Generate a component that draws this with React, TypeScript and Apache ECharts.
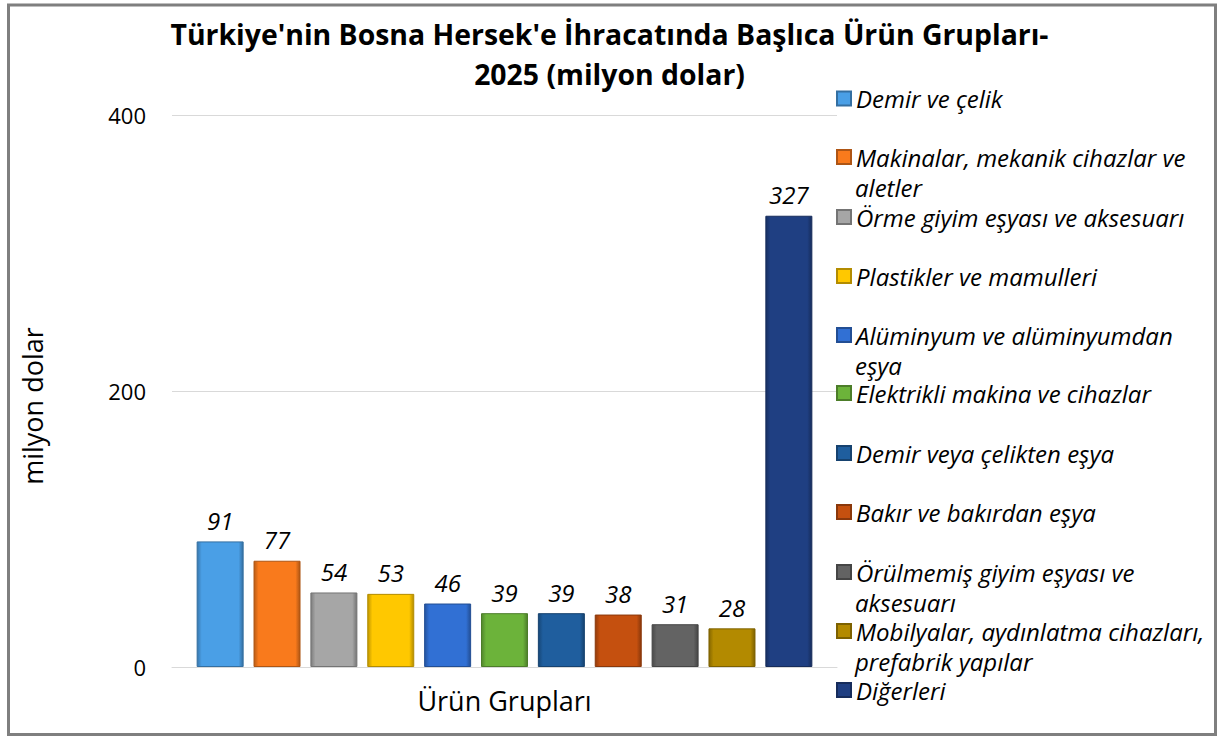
import React, { useEffect, useRef } from "react";
import * as echarts from "echarts";

const TITLE_TEXT = "Türkiye'nin Bosna Hersek'e İhracatında Başlıca Ürün Grupları-\n2025 (milyon dolar)";
const CATEGORIES = ["Ürün Grupları"];
const SERIES_NAMES = [
  "Demir ve çelik",
  "Makinalar, mekanik cihazlar ve aletler",
  "Örme giyim eşyası ve aksesuarı",
  "Plastikler ve mamulleri",
  "Alüminyum ve alüminyumdan eşya",
  "Elektrikli makina ve cihazlar",
  "Demir veya çelikten eşya",
  "Bakır ve bakırdan eşya",
  "Örülmemiş giyim eşyası ve aksesuarı",
  "Mobilyalar, aydınlatma cihazları, prefabrik yapılar",
  "Diğerleri",
];
// first line shown next to the legend icon, second line (if any) wraps below
const LEGEND_LINE1 = [
  "Demir ve çelik",
  "Makinalar, mekanik cihazlar ve",
  "Örme giyim eşyası ve aksesuarı",
  "Plastikler ve mamulleri",
  "Alüminyum ve alüminyumdan",
  "Elektrikli makina ve cihazlar",
  "Demir veya çelikten eşya",
  "Bakır ve bakırdan eşya",
  "Örülmemiş giyim eşyası ve",
  "Mobilyalar, aydınlatma cihazları,",
  "Diğerleri",
];
const LEGEND_LINE2 = ["", "aletler", "", "", "eşya", "", "", "", "aksesuarı", "prefabrik yapılar", ""];
const VALUES = [91, 77, 54, 53, 46, 39, 39, 38, 31, 28, 327];
const COLORS = [
  "#4a9fe6",
  "#f97a1c",
  "#a6a6a6",
  "#ffc800",
  "#3170d4",
  "#6cb33a",
  "#1f5e9e",
  "#c5500f",
  "#636363",
  "#b38a00",
  "#1f3f82",
];
const Y_TICKS = [0, 200, 400];

const FONT = "'Open Sans', 'Noto Sans', sans-serif";

function shade(hex: string, f: number): string {
  const n = parseInt(hex.slice(1), 16);
  const r = Math.round(((n >> 16) & 255) * f);
  const g = Math.round(((n >> 8) & 255) * f);
  const b = Math.round((n & 255) * f);
  const c = (v: number) => Math.max(0, Math.min(255, v)).toString(16).padStart(2, "0");
  return "#" + c(r) + c(g) + c(b);
}

export default function App() {
  const ref = useRef<HTMLDivElement>(null);
  useEffect(() => {
    if (!ref.current) return;
    const chart = echarts.init(ref.current, null, { renderer: "svg" });
    const iconCenters = [98.5, 157, 217, 276, 335, 393, 453, 512, 572, 631, 690];
    const legendText = {
      fontFamily: FONT,
      fontStyle: "italic",
      fontSize: 24,
      color: "#000",
      lineHeight: 26,
    };
    const legends = SERIES_NAMES.map((name, i) => ({
      data: [name],
      left: 836,
      top: iconCenters[i] - 13,
      padding: 0,
      orient: "vertical",
      icon: "rect",
      itemWidth: 14,
      itemHeight: 14,
      itemGap: 0,
      selectedMode: false,
      formatter: () => LEGEND_LINE1[i],
      textStyle: legendText,
    }));
    const wrapTexts = LEGEND_LINE2.map((t, i) =>
      t
        ? {
            type: "text",
            x: 855,
            y: iconCenters[i] + 30,
            silent: true,
            style: {
              text: t,
              fontFamily: FONT,
              fontStyle: "italic",
              fontSize: 24,
              lineHeight: 26,
              fill: "#000",
              verticalAlign: "middle",
              align: "left",
            },
          }
        : null
    ).filter(Boolean);
    const series = SERIES_NAMES.map((name, i) => ({
      name,
      type: "bar",
      data: [VALUES[i]],
      barWidth: 47,
      barGap: "21%",
      itemStyle: {
        color: new echarts.graphic.LinearGradient(0, 0, 1, 0, [
          { offset: 0, color: shade(COLORS[i], 0.75) },
          { offset: 0.1, color: COLORS[i] },
          { offset: 0.9, color: COLORS[i] },
          { offset: 1, color: shade(COLORS[i], 0.7) },
        ]),
        borderColor: shade(COLORS[i], 0.7),
        borderWidth: 1,
      },
      label: {
        show: true,
        position: "top",
        distance: 9,
        fontFamily: FONT,
        fontStyle: "italic",
        fontSize: 24,
        color: "#000",
      },
    }));
    chart.setOption({
      animation: false,
      backgroundColor: "#fff",
      title: {
        text: TITLE_TEXT,
        left: "center",
        top: 9,
        textStyle: {
          fontFamily: FONT,
          fontWeight: "bold",
          fontSize: 28.4,
          lineHeight: 40,
          color: "#000",
        },
      },
      graphic: [
        {
          type: "rect",
          shape: { x: 8.5, y: 5, width: 1207, height: 729.5 },
          style: { fill: "none", stroke: "#7f7f7f", lineWidth: 3 },
          silent: true,
        },
        ...wrapTexts,
      ],
      legend: legends,
      grid: { left: 172, right: 382, top: 115, bottom: 69 },
      xAxis: {
        type: "category",
        data: CATEGORIES,
        axisTick: { show: false },
        axisLine: { lineStyle: { color: "#d9d9d9", width: 1 } },
        axisLabel: {
          fontFamily: FONT,
          fontSize: 27,
          color: "#000",
          margin: 20,
        },
      },
      yAxis: {
        type: "value",
        min: Y_TICKS[0],
        max: Y_TICKS[Y_TICKS.length - 1],
        interval: 200,
        name: "milyon dolar",
        nameLocation: "middle",
        nameGap: 126,
        nameTextStyle: {
          fontFamily: FONT,
          fontSize: 27,
          color: "#000",
          padding: [0, 30, 0, 0],
        },
        axisLabel: {
          fontFamily: FONT,
          fontSize: 22,
          color: "#000",
          margin: 26,
        },
        splitLine: { lineStyle: { color: "#d9d9d9", width: 1 } },
        axisLine: { show: false },
        axisTick: { show: false },
      },
      series,
    });
    return () => chart.dispose();
  }, []);
  return (
    <div
      ref={ref}
      style={{ position: "fixed", left: 0, top: 0, width: 1219, height: 736 }}
    />
  );
}
